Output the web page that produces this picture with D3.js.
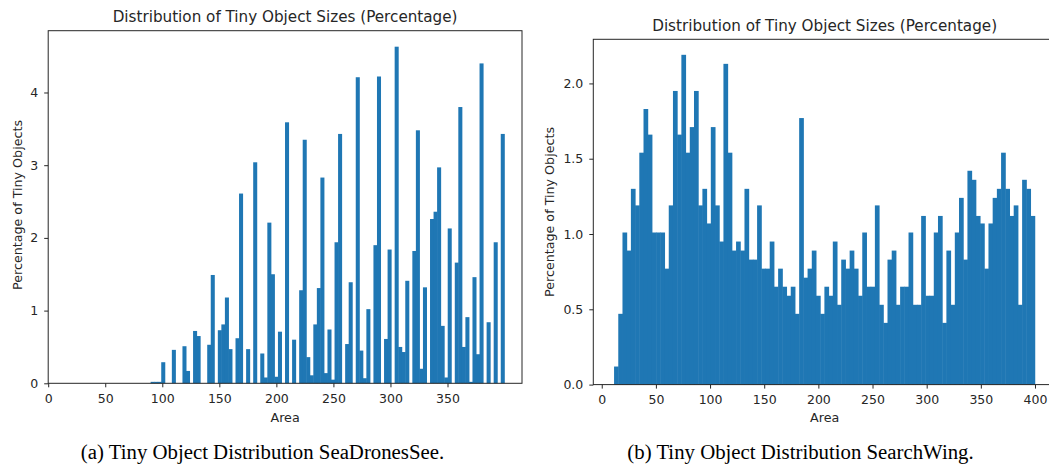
<!DOCTYPE html>
<html>
<head>
<meta charset="utf-8">
<script src="https://cdn.jsdelivr.net/npm/d3@7"></script>
<style>
  body { margin: 0; background: #fff; }
  svg text { font-family: "DejaVu Sans", sans-serif; fill: #262626; }
  .caption { font-family: "Liberation Serif", "Times New Roman", serif !important; fill: #000 !important; }
</style>
</head>
<body>
<div id="chart"></div>
<script>
// data: histogram bins (percent of tiny objects per area bin)
var seaRange = [90, 400];
var seaPercent = [
  0.02, 0.02, 0.02, 0.29, 0, 0, 0.46, 0, 0, 0.51,
  0.17, 0, 0.72, 0.65, 0, 0, 0.53, 1.49, 0, 0.73,
  0.81, 1.18, 0.47, 0, 0.62, 2.61, 0, 0.47, 0, 3.04,
  0, 0.41, 0.08, 2.21, 1.50, 0.09, 0.71, 0, 3.59, 0,
  0.60, 0, 1.28, 3.35, 0.36, 0.11, 0.81, 1.31, 2.83, 0.14,
  0.74, 0.05, 1.94, 3.43, 0, 0.54, 1.39, 0, 4.21, 0.45,
  0.07, 1.02, 0, 1.90, 4.22, 0, 0.61, 1.84, 0, 4.63,
  0.50, 0.43, 1.41, 0, 1.82, 3.48, 0.20, 1.32, 0, 2.26,
  2.36, 2.97, 0.79, 0.08, 2.13, 0, 1.66, 3.80, 0.50, 0.91,
  0.02, 1.46, 0.40, 4.40, 0, 0.84, 0, 1.94, 0, 3.43
];

var wingRange = [11.6, 400];
var wingPercent = [
  0.12, 0.47, 1.01, 0.89, 1.30, 1.19, 1.54, 1.83, 1.66, 1.01,
  1.01, 1.01, 0.77, 1.19, 1.95, 1.66, 2.19, 1.54, 1.71, 1.95,
  1.19, 1.30, 1.07, 1.71, 1.19, 0.95, 2.13, 1.54, 0.89, 0.95,
  0.89, 1.30, 0.83, 0.83, 1.19, 0.77, 0.77, 0.95, 0.65, 0.77,
  0.65, 0.59, 0.65, 0.47, 1.77, 0.71, 0.77, 0.89, 0.59, 0.47,
  0.65, 0.59, 0.95, 0.53, 0.83, 0.77, 0.89, 0.77, 0.59, 1.01,
  0.65, 0.65, 1.19, 0.53, 0.41, 0.83, 0.89, 0.53, 0.65, 0.65,
  1.01, 0.53, 0.53, 1.12, 0.59, 0.59, 1.01, 1.12, 0.41, 0.89,
  0.53, 1.01, 1.24, 0.83, 1.42, 1.36, 1.12, 1.07, 0.77, 1.07,
  1.24, 1.30, 1.54, 1.30, 1.12, 1.19, 0.53, 1.36, 1.30, 1.12
];

var seaXTicks = [0, 50, 100, 150, 200, 250, 300, 350];
var seaYTicks = [0, 1, 2, 3, 4];
var wingXTicks = [0, 50, 100, 150, 200, 250, 300, 350, 400];
var wingYTicks = [0, 0.5, 1.0, 1.5, 2.0];

var chartTitle = "Distribution of Tiny Object Sizes (Percentage)";
var xLabel = "Area";
var yLabel = "Percentage of Tiny Objects";
var captions = ["(a) Tiny Object Distribution SeaDronesSee.", "(b) Tiny Object Distribution SearchWing."];

var width = 1049;
var height = 468;
var barColor = "#1f77b4";

var svg = d3.select("#chart")
  .append("svg")
  .attr("width", width)
  .attr("height", height);

function drawPanel(p) {
  var g = svg.append("g");

  var xScale = d3.scaleLinear()
    .domain(p.xDomain)
    .range([p.left, p.right]);
  var yScale = d3.scaleLinear()
    .domain([0, p.yMax])
    .range([p.bottom, p.top]);

  // bars (tiny overlap so neighbouring bins don't show white seams)
  var binW = (p.range[1] - p.range[0]) / p.values.length;
  var bins = p.values.map(function(v, i) {
    return { x0: p.range[0] + i * binW, x1: p.range[0] + (i + 1) * binW, v: v };
  }).filter(function(d) { return d.v > 0; });

  g.selectAll("rect.bar")
    .data(bins)
    .enter()
    .append("rect")
    .attr("class", "bar")
    .attr("x", function(d) { return xScale(d.x0) - 0.25; })
    .attr("width", function(d) { return xScale(d.x1) - xScale(d.x0) + 0.5; })
    .attr("y", function(d) { return yScale(d.v); })
    .attr("height", function(d) { return yScale(0) - yScale(d.v); })
    .attr("fill", barColor);

  // axes
  var xAxis = d3.axisBottom(xScale)
    .tickValues(p.xTicks)
    .tickSize(4)
    .tickSizeOuter(0)
    .tickPadding(7);
  var yAxis = d3.axisLeft(yScale)
    .tickValues(p.yTicks)
    .tickFormat(p.yFormat)
    .tickSize(4)
    .tickSizeOuter(0)
    .tickPadding(6);

  var gx = g.append("g")
    .attr("transform", "translate(0," + p.bottom + ")")
    .call(xAxis);
  var gy = g.append("g")
    .attr("transform", "translate(" + p.left + ",0)")
    .call(yAxis);
  [gx, gy].forEach(function(a) {
    a.select(".domain").remove();
    a.selectAll("line").attr("stroke", "#262626").attr("stroke-width", 1);
    a.selectAll("text").style("font-size", "12.5px").attr("fill", "#262626");
  });

  // frame
  g.append("rect")
    .attr("x", p.left)
    .attr("y", p.top)
    .attr("width", p.right - p.left)
    .attr("height", p.bottom - p.top)
    .attr("fill", "none")
    .attr("stroke", "#262626")
    .attr("stroke-width", 1);

  // texts
  g.append("text")
    .attr("x", (p.left + p.right) / 2)
    .attr("y", p.titleY)
    .attr("text-anchor", "middle")
    .style("font-size", "15.2px")
    .text(chartTitle);

  g.append("text")
    .attr("x", (p.left + p.right) / 2)
    .attr("y", 421.5)
    .attr("text-anchor", "middle")
    .style("font-size", "12.7px")
    .text(xLabel);

  g.append("text")
    .attr("transform", "translate(" + p.yLabelX + "," + p.yLabelY + ") rotate(-90)")
    .attr("text-anchor", "middle")
    .attr("dy", "0.35em")
    .style("font-size", "12.7px")
    .text(yLabel);

  g.append("text")
    .attr("class", "caption")
    .attr("x", p.captionX)
    .attr("y", 459)
    .attr("text-anchor", "middle")
    .style("font-size", "20.8px")
    .text(p.caption);
}

drawPanel({
  left: 48.2, right: 522, top: 30.7, bottom: 383.3,
  xDomain: [0, 415.3], yMax: 4.85,
  range: seaRange, values: seaPercent,
  xTicks: seaXTicks, yTicks: seaYTicks, yFormat: d3.format("d"),
  titleY: 21.5, yLabelX: 17.5, yLabelY: 205,
  caption: captions[0], captionX: 262.5
});

drawPanel({
  left: 593.3, right: 1056, top: 39.3, bottom: 384.6,
  xDomain: [-7.8, 419.4], yMax: 2.293,
  range: wingRange, values: wingPercent,
  xTicks: wingXTicks, yTicks: wingYTicks, yFormat: d3.format(".1f"),
  titleY: 30.8, yLabelX: 550, yLabelY: 212,
  caption: captions[1], captionX: 800.5
});
</script>
</body>
</html>
